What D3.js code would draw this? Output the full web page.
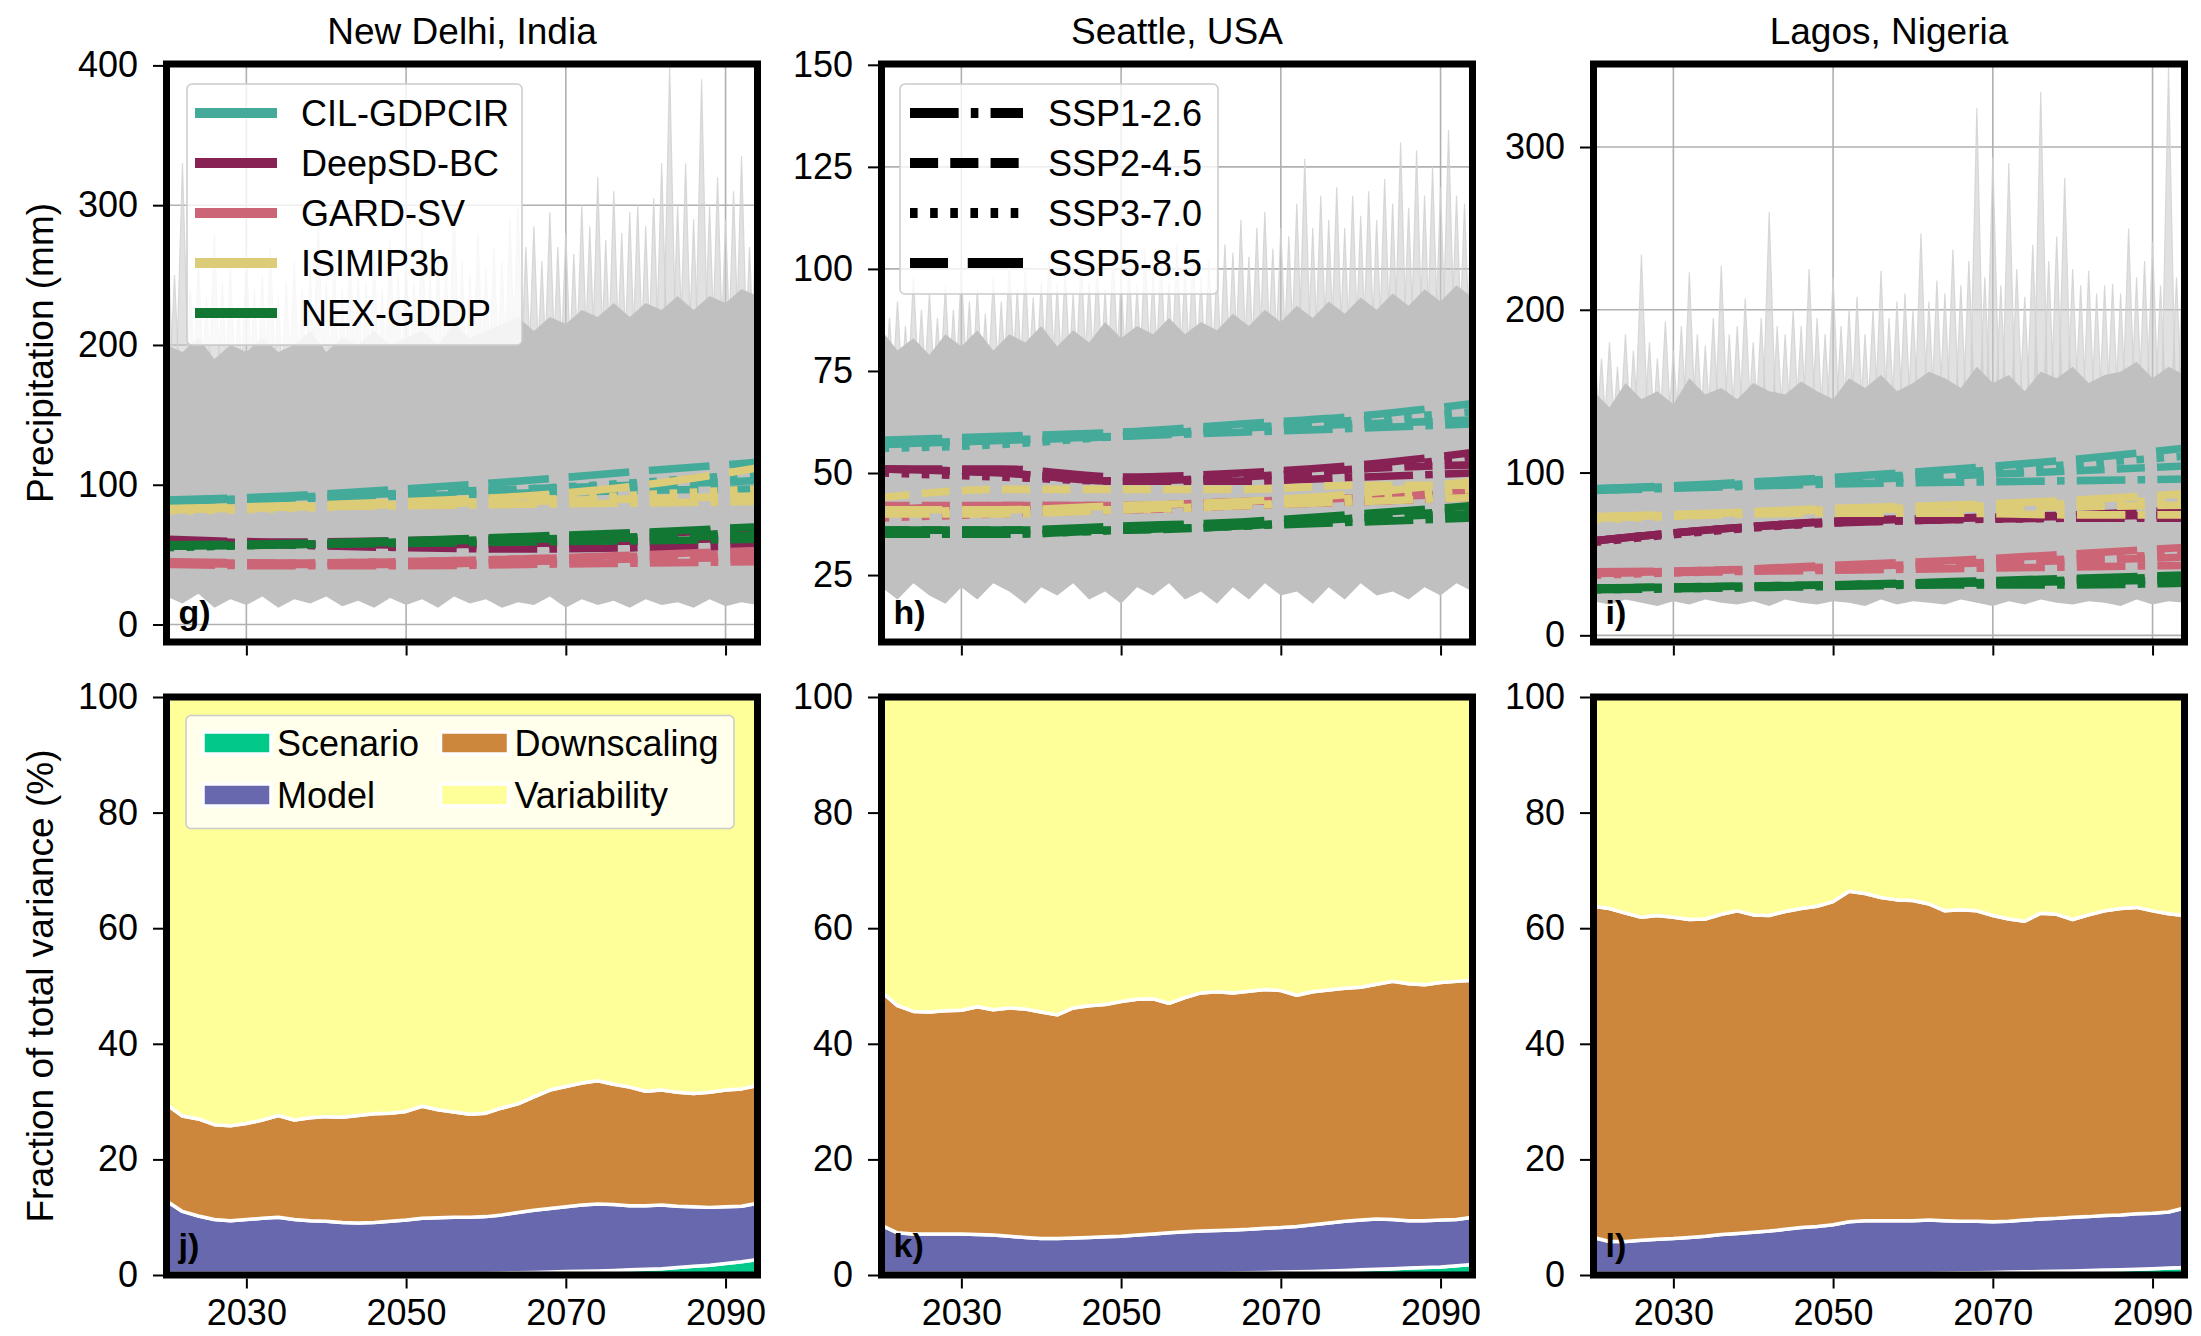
<!DOCTYPE html>
<html>
<head>
<meta charset="utf-8">
<script src="https://cdn.jsdelivr.net/npm/d3@7"></script>
<style>
body { margin: 0; background: #ffffff; }
svg { font-family: "Liberation Sans", Arial, sans-serif; }
.grid line { stroke: #b0b0b0; stroke-width: 1.6; }
.axis line { stroke: #000; stroke-width: 2; }
.axis text { fill: #000; }
.frame { fill: none; stroke: #000; stroke-width: 7; }
</style>
</head>
<body>
<div id="chartdiv"></div>
<script>
// categories
var cities = ["New Delhi, India", "Seattle, USA", "Lagos, Nigeria"];
var panelLetters = [["g)", "h)", "i)"], ["j)", "k)", "l)"]];
var methods = ["CIL-GDPCIR", "DeepSD-BC", "GARD-SV", "ISIMIP3b", "NEX-GDDP"];
var methodColors = ["#44aa99", "#882255", "#cc6677", "#ddcc77", "#117733"];
var scenarios = ["SSP1-2.6", "SSP2-4.5", "SSP3-7.0", "SSP5-8.5"];
var sources = ["Scenario", "Model", "Downscaling", "Variability"];
var sourceColors = ["#00c98a", "#6868ae", "#cc873c", "#ffff99"];
var xTicks = [2030, 2050, 2070, 2090];
var precipTicks = [[0, 100, 200, 300, 400], [25, 50, 75, 100, 125, 150], [0, 100, 200, 300]];
var fracTicks = [0, 20, 40, 60, 80, 100];

// years of the method means (rows: SSP1, SSP2, SSP3, SSP5)
var lineYears = [2020, 2035, 2050, 2065, 2080, 2094];

var delhiCil = [[88,90,92,94,96,97],[88,91,94,97,100,103],[87,90,93,97,102,108],[89,92,97,103,110,116]];
var delhiDeep = [[60,57,55,54,55,56],[60,58,57,58,60,62],[59,57,56,57,59,61],[61,59,60,62,65,68]];
var delhiGard = [[43,42,42,43,44,45],[44,43,43,45,47,48],[44,44,45,47,49,51],[45,44,45,47,50,53]];
var delhiIsi = [[82,84,85,86,87,88],[82,84,86,88,90,92],[81,83,86,89,93,97],[83,85,88,92,100,112]];
var delhiNex = [[56,57,58,59,60,61],[56,57,59,61,62,64],[55,57,59,61,63,66],[57,58,60,63,66,70]];

var seattleCil = [[57,58,59,60,61,62],[57,58,59,61,62,63],[56,57,59,61,63,65],[58,59,60,62,64,67]];
var seattleDeep = [[51,50,48,48,49,50],[51,50,48,49,51,52],[50,49,48,49,51,54],[51,51,49,50,52,55]];
var seattleGard = [[40,41,41,42,43,44],[42,42,42,43,44,45],[39,40,41,42,43,44],[41,42,42,43,44,46]];
var seattleIsi = [[40,40,41,42,43,44],[44,46,46,46,47,47],[40,41,41,42,44,46],[41,41,42,43,45,48]];
var seattleNex = [[35,35,36,37,38,39],[36,36,36,37,39,40],[35,35,36,37,39,41],[36,36,37,38,40,42]];

var lagosCil = [[89,91,93,94,95,96],[90,92,95,98,101,104],[89,92,96,100,105,110],[90,93,97,102,108,115]];
var lagosDeep = [[58,65,69,71,72,72],[58,65,70,72,73,74],[57,64,69,71,72,74],[58,65,70,72,74,77]];
var lagosGard = [[38,39,40,41,42,43],[38,40,42,44,46,48],[37,39,41,44,47,50],[39,40,43,46,50,54]];
var lagosIsi = [[72,74,75,75,74,74],[72,75,77,78,79,80],[71,74,77,79,81,83],[73,75,78,80,83,87]];
var lagosNex = [[28,29,30,31,31,32],[29,30,31,32,33,34],[28,29,31,32,34,36],[29,30,31,33,35,37]];

// ensemble members: yearly peaks 2020-2094, dense band every 2 years
var delhiPeak = [320,250,330,240,260,235,280,245,255,230, 265,240,250,270,235,245,260,240,255,290,
                 245,260,240,270,250,245,265,240,275,250, 260,245,285,250,265,255,300,260,250,280,
                 255,270,260,290,300,270,285,260,295,270, 280,265,300,285,320,275,310,280,295,300,
                 285,305,330,400,300,330,290,390,300,320, 290,310,335,270,330];
var delhiBandTop = [200,195,205,190,200,195,205,195,200,210, 195,205,200,210,200,205,210,200,215,205,
                    210,215,220,210,220,215,225,220,230,220, 230,225,235,225,235,230,240,235];
var delhiBandLow = [20,15,22,12,18,14,20,12,18,15, 20,13,17,12,19,14,18,12,20,15,
                    18,12,16,14,20,12,18,14,17,12, 18,14,16,12,18,13,16,14];

var seattlePeak = [95,88,92,86,98,90,94,88,96,90, 100,92,95,89,98,92,102,95,100,93,
                   97,104,96,100,94,103,97,101,95,104, 98,102,96,105,99,103,97,106,100,104,
                   98,102,100,106,104,112,103,110,114,105, 110,108,116,127,110,118,112,120,110,118,
                   113,119,112,122,116,131,115,129,118,125, 120,134,118,116,122];
var seattleBandTop = [85,80,83,79,84,81,85,80,84,82, 86,81,85,82,87,83,86,84,88,84,
                      87,85,89,86,90,87,91,88,92,89, 93,90,94,91,95,92,96,93];
var seattleBandLow = [22,19,23,20,18,22,19,23,21,18, 22,20,23,19,21,18,22,20,23,19,
                      21,18,22,19,23,20,21,18,22,19, 23,20,21,19,22,20,23,21];

var lagosPeak = [195,170,180,165,185,175,234,180,170,193, 175,190,223,185,178,195,227,185,190,207,
                 180,195,260,190,185,200,190,225,195,185, 220,190,200,208,185,200,224,195,205,210,
                 200,247,205,218,210,237,215,230,324,220, 294,215,290,225,208,240,334,230,245,281,
                 225,215,224,210,215,216,210,250,220,230, 242,215,349,220,273];
var lagosBandTop = [150,140,155,145,150,142,158,148,152,145, 155,150,148,156,150,145,158,152,160,150,
                    155,162,158,152,165,155,160,150,162,158, 165,155,160,162,168,158,165,160];
var lagosBandLow = [21,19,22,20,18,21,19,22,20,19, 21,18,22,20,19,21,20,18,22,19,
                    21,20,19,22,20,18,21,19,22,20, 19,21,20,18,22,19,21,20];

// variance fractions (%), every 2 years 2020-2094
var delhiScenario = [0.3,0.3,0.3,0.3,0.3,0.3,0.3,0.3,0.3,0.3, 0.3,0.3,0.3,0.3,0.3,0.3,0.3,0.3,0.3,0.3,
                     0.3,0.35,0.4,0.45,0.5,0.6,0.65,0.7,0.8,0.9, 1.0,1.1,1.3,1.5,1.7,2.0,2.3,2.7];
var delhiModel = [12.5,10.7,9.9,9.3,9.1,9.3,9.5,9.7,9.3,9.1, 9.0,8.8,8.7,8.8,9.0,9.2,9.5,9.6,9.7,9.7,
                  9.8,10.05,10.4,10.75,11.0,11.2,11.45,11.6,11.4,11.1, 11.0,11.0,10.6,10.3,10.0,9.8,9.6,9.7];
var delhiDownscaling = [16.7,16.5,16.8,16.4,16.4,16.6,17.0,17.6,17.2,17.8, 18.1,18.2,18.6,18.8,18.7,18.8,19.4,18.7,18.2,17.8,
                        17.9,18.5,18.8,19.6,20.5,20.8,21.1,21.3,20.8,20.5, 19.8,19.9,19.7,19.6,19.9,20.2,20.3,20.4];

var seattleScenario = [0.3,0.3,0.3,0.3,0.3,0.3,0.3,0.3,0.3,0.3, 0.3,0.3,0.3,0.3,0.3,0.3,0.3,0.3,0.3,0.3,
                       0.3,0.32,0.35,0.4,0.45,0.5,0.55,0.6,0.7,0.8, 0.9,1.0,1.1,1.2,1.3,1.4,1.6,1.8];
var seattleModel = [8.3,7.0,6.8,6.8,6.8,6.8,6.7,6.6,6.4,6.2, 6.0,6.0,6.1,6.2,6.3,6.4,6.6,6.8,7.0,7.2,
                    7.3,7.38,7.45,7.5,7.65,7.7,7.85,8.1,8.3,8.5, 8.6,8.7,8.5,8.2,8.1,8.1,8.0,8.2];
var seattleDownscaling = [40.4,39.3,38.5,38.4,38.6,38.7,39.4,39.0,39.5,39.5, 39.2,38.7,39.8,40.1,40.2,40.6,40.8,40.7,39.7,40.5,
                          41.2,41.3,41.0,41.2,41.3,41.0,40.0,40.3,40.3,40.3, 40.3,40.6,41.2,41.0,40.8,41.1,41.2,41.0];

var lagosScenario = [0.3,0.3,0.3,0.3,0.3,0.3,0.3,0.3,0.3,0.3, 0.3,0.3,0.3,0.3,0.3,0.3,0.3,0.3,0.3,0.3,
                     0.3,0.32,0.35,0.38,0.4,0.45,0.5,0.55,0.6,0.65, 0.7,0.8,0.85,0.9,1.0,1.1,1.2,1.3];
var lagosModel = [6.2,5.5,5.5,5.7,5.9,6.0,6.2,6.4,6.7,6.9, 7.1,7.3,7.6,7.9,8.1,8.4,8.9,9.1,9.1,9.1,
                  9.1,9.18,9.05,8.92,8.9,8.75,8.8,8.95,9.1,9.15, 9.3,9.3,9.45,9.5,9.6,9.6,9.7,10.3];
var lagosDownscaling = [57.3,57.6,56.8,55.9,56.0,55.6,55.0,54.9,55.4,55.8, 54.9,54.6,55.0,55.2,55.4,55.9,57.2,56.6,55.9,55.5,
                        55.4,54.7,53.6,53.9,53.7,53.0,52.3,51.7,52.9,52.6, 51.5,52.2,52.7,53.0,53.0,52.3,51.6,50.6];

var peakYears = d3.range(2020, 2095);
var bandYears = d3.range(2020, 2095, 2);

var cityLines = [[delhiCil, delhiDeep, delhiGard, delhiIsi, delhiNex],
                 [seattleCil, seattleDeep, seattleGard, seattleIsi, seattleNex],
                 [lagosCil, lagosDeep, lagosGard, lagosIsi, lagosNex]];
var cityPeak = [delhiPeak, seattlePeak, lagosPeak];
var cityBandTop = [delhiBandTop, seattleBandTop, lagosBandTop];
var cityBandLow = [delhiBandLow, seattleBandLow, lagosBandLow];
var cityFractions = [[delhiScenario, delhiModel, delhiDownscaling],
                     [seattleScenario, seattleModel, seattleDownscaling],
                     [lagosScenario, lagosModel, lagosDownscaling]];

// layout
var colLeft = [166.5, 881.5, 1593.5], plotW = 591;
var rowTop = [64, 697], plotH = 578;
var precipDomains = [[-12.5, 401], [8.6, 150.2], [-4.1, 351]];
var peakBase = [110, 55, 90];
var lw = 7.6;
var dashes = [[6.4*lw, 1.6*lw, lw, 1.6*lw].join(","), [3.7*lw, 1.6*lw].join(","),
              [lw, 1.65*lw].join(","), [8*lw, 2.6*lw].join(",")];

var svgContainer = d3.select("div#chartdiv").append("svg")
                      .attr("width", 2201)
                      .attr("height", 1336);
var defs = svgContainer.append("defs");

function xScale(i) {
    return d3.scaleLinear().domain([2020, 2094]).range([colLeft[i], colLeft[i] + plotW]);
}

function addClip(id, i, r) {
    defs.append("clipPath").attr("id", id)
        .append("rect")
        .attr("x", colLeft[i]).attr("y", rowTop[r])
        .attr("width", plotW).attr("height", plotH);
}

function drawAxes(g, x, y, yTicks, r) {
    var left = x.range()[0], bottom = y.range()[0];
    var ya = g.append("g").attr("class", "axis")
              .attr("transform", "translate(" + (left - 3.5) + ",0)")
              .call(d3.axisLeft(y).tickValues(yTicks).tickSize(10).tickPadding(15));
    var xa = g.append("g").attr("class", "axis")
              .attr("transform", "translate(0," + (bottom + 3.5) + ")")
              .call(d3.axisBottom(x).tickValues(xTicks).tickSize(10).tickPadding(11)
                    .tickFormat(r === 1 ? d3.format("d") : function() { return ""; }));
    [ya, xa].forEach(function(a) {
        a.select(".domain").remove();
        a.attr("font-size", 36).attr("font-family", null);
    });
}

// top row: precipitation
cities.forEach(function(city, i) {
    var x = xScale(i);
    var y = d3.scaleLinear().domain(precipDomains[i]).range([rowTop[0] + plotH, rowTop[0]]);
    var g = svgContainer.append("g");
    addClip("clip-top-" + i, i, 0);

    // grid
    var grid = g.append("g").attr("class", "grid");
    grid.selectAll("line.vx").data(xTicks).enter().append("line")
        .attr("x1", function(d) { return x(d); }).attr("x2", function(d) { return x(d); })
        .attr("y1", rowTop[0]).attr("y2", rowTop[0] + plotH);
    grid.selectAll("line.hy").data(precipTicks[i]).enter().append("line")
        .attr("x1", colLeft[i]).attr("x2", colLeft[i] + plotW)
        .attr("y1", function(d) { return y(d); }).attr("y2", function(d) { return y(d); });

    var data = g.append("g").attr("clip-path", "url(#clip-top-" + i + ")");

    // ensemble members: one spike per yearly peak
    data.selectAll("path.peak")
        .data(cityPeak[i])
        .enter()
        .append("path")
        .classed("peak", true)
        .attr("d", function(d, k) {
            var yr = peakYears[k];
            return "M" + x(yr - 1.1) + "," + y(peakBase[i]) +
                   "L" + x(yr) + "," + y(d) +
                   "L" + x(yr + 1.1) + "," + y(peakBase[i]) + "Z";
        })
        .attr("fill", "#c8c8c8")
        .attr("fill-opacity", 0.55)
        .attr("stroke", "#d2d2d2")
        .attr("stroke-width", 1.2)
        .attr("stroke-opacity", 0.85);

    var bandArea = d3.area()
        .x(function(d, k) { return x(bandYears[k]); })
        .y0(function(d, k) { return y(cityBandLow[i][k]); })
        .y1(function(d) { return y(d); });
    data.append("path").datum(cityBandTop[i])
        .attr("d", bandArea)
        .attr("fill", "#c0c0c0");

    // method x scenario means
    var line = d3.line()
        .x(function(d, k) { return x(lineYears[k]); })
        .y(function(d) { return y(d); })
        .curve(d3.curveMonotoneX);
    cityLines[i].forEach(function(rows, m) {
        data.selectAll("path.m" + m)
            .data(rows)
            .enter()
            .append("path")
            .classed("m" + m, true)
            .attr("d", line)
            .attr("fill", "none")
            .attr("stroke", methodColors[m])
            .attr("stroke-width", lw)
            .attr("stroke-dasharray", function(d, s) { return dashes[s]; });
    });

    drawAxes(g, x, y, precipTicks[i], 0);

    g.append("rect").attr("class", "frame")
        .attr("x", colLeft[i]).attr("y", rowTop[0])
        .attr("width", plotW).attr("height", plotH);

    g.append("text")
        .attr("x", colLeft[i] + plotW / 2).attr("y", 44)
        .attr("text-anchor", "middle").attr("font-size", 37)
        .text(city);

    g.append("text")
        .attr("x", colLeft[i] + 12).attr("y", rowTop[0] + plotH - 18)
        .attr("font-size", 34).attr("font-weight", "bold")
        .text(panelLetters[0][i]);
});

// bottom row: fraction of total variance
cities.forEach(function(city, i) {
    var x = xScale(i);
    var y = d3.scaleLinear().domain([0, 100]).range([rowTop[1] + plotH, rowTop[1]]);
    var g = svgContainer.append("g");
    addClip("clip-bot-" + i, i, 1);

    var fr = cityFractions[i];
    var rows = bandYears.map(function(yr, k) {
        // variability is what is left of the total
        return {year: yr, Scenario: fr[0][k], Model: fr[1][k], Downscaling: fr[2][k],
                Variability: 100 - fr[0][k] - fr[1][k] - fr[2][k]};
    });
    var layers = d3.stack().keys(sources)(rows);
    var area = d3.area()
        .x(function(d) { return x(d.data.year); })
        .y0(function(d) { return y(d[0]); })
        .y1(function(d) { return y(d[1]); });

    g.append("g").attr("clip-path", "url(#clip-bot-" + i + ")")
        .selectAll("path")
        .data(layers)
        .enter()
        .append("path")
        .attr("d", area)
        .attr("fill", function(d, k) { return sourceColors[k]; })
        .attr("stroke", "#ffffff")
        .attr("stroke-width", 3.5)
        .attr("stroke-linejoin", "round");

    drawAxes(g, x, y, fracTicks, 1);

    g.append("rect").attr("class", "frame")
        .attr("x", colLeft[i]).attr("y", rowTop[1])
        .attr("width", plotW).attr("height", plotH);

    g.append("text")
        .attr("x", colLeft[i] + 12).attr("y", rowTop[1] + plotH - 18)
        .attr("font-size", 34).attr("font-weight", "bold")
        .text(panelLetters[1][i]);
});

// y labels
svgContainer.append("text")
    .attr("transform", "translate(53," + (rowTop[0] + plotH / 2) + ") rotate(-90)")
    .attr("text-anchor", "middle").attr("font-size", 37)
    .text("Precipitation (mm)");
svgContainer.append("text")
    .attr("transform", "translate(53," + (rowTop[1] + plotH / 2) + ") rotate(-90)")
    .attr("text-anchor", "middle").attr("font-size", 37)
    .text("Fraction of total variance (%)");

// legend: methods (panel g)
var leg1 = svgContainer.append("g")
    .attr("transform", "translate(" + (colLeft[0] + 20.5) + "," + (rowTop[0] + 20) + ")");
leg1.append("rect").attr("width", 335).attr("height", 261).attr("rx", 5)
    .attr("fill", "#ffffff").attr("fill-opacity", 0.8)
    .attr("stroke", "#cccccc").attr("stroke-width", 1.5);
var leg1Items = leg1.selectAll("g").data(methods).enter().append("g")
    .attr("transform", function(d, k) { return "translate(0," + (29 + k * 50) + ")"; });
leg1Items.append("line")
    .attr("x1", 8).attr("x2", 90)
    .attr("stroke", function(d, k) { return methodColors[k]; })
    .attr("stroke-width", 10);
leg1Items.append("text")
    .attr("x", 114).attr("dy", "0.35em").attr("font-size", 36)
    .text(function(d) { return d; });

// legend: scenarios (panel h)
var leg2 = svgContainer.append("g")
    .attr("transform", "translate(" + (colLeft[1] + 18.5) + "," + (rowTop[0] + 20) + ")");
leg2.append("rect").attr("width", 318).attr("height", 210).attr("rx", 5)
    .attr("fill", "#ffffff").attr("fill-opacity", 0.8)
    .attr("stroke", "#cccccc").attr("stroke-width", 1.5);
var leg2Items = leg2.selectAll("g").data(scenarios).enter().append("g")
    .attr("transform", function(d, k) { return "translate(0," + (29 + k * 50) + ")"; });
leg2Items.append("line")
    .attr("x1", 10).attr("x2", 123)
    .attr("stroke", "#000000")
    .attr("stroke-width", 10)
    .attr("stroke-dasharray", function(d, k) { return dashes[k]; })
    .attr("stroke-dashoffset", function(d, k) { return k === 3 ? 22.8 : 0; });
leg2Items.append("text")
    .attr("x", 148).attr("dy", "0.35em").attr("font-size", 36)
    .text(function(d) { return d; });

// legend: variance sources (panel j)
var leg3 = svgContainer.append("g")
    .attr("transform", "translate(" + (colLeft[0] + 19.5) + "," + (rowTop[1] + 18.6) + ")");
leg3.append("rect").attr("width", 548).attr("height", 113).attr("rx", 5)
    .attr("fill", "#ffffff").attr("fill-opacity", 0.8)
    .attr("stroke", "#cccccc").attr("stroke-width", 1.5);
var leg3Items = leg3.selectAll("g").data(sources).enter().append("g")
    .attr("transform", function(d, k) {
        return "translate(" + (k < 2 ? 17 : 254.5) + "," + (27.4 + (k % 2) * 52) + ")";
    });
leg3Items.append("rect")
    .attr("y", -11).attr("width", 68).attr("height", 22)
    .attr("fill", function(d, k) { return sourceColors[k]; })
    .attr("stroke", "#ffffff").attr("stroke-width", 3.5);
leg3Items.append("text")
    .attr("x", 74).attr("dy", "0.35em").attr("font-size", 36)
    .text(function(d) { return d; });
</script>
</body>
</html>
